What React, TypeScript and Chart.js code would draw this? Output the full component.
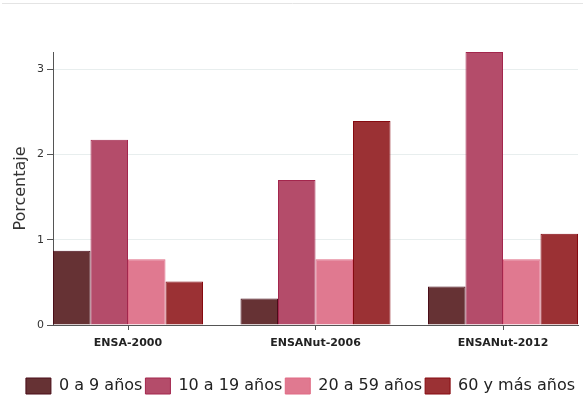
import { useEffect, useRef } from "react";
import { Chart, registerables } from "chart.js";

Chart.register(...registerables);

const categories = ["ENSA-2000", "ENSANut-2006", "ENSANut-2012"];
const seriesLabels = ["0 a 9 años", "10 a 19 años", "20 a 59 años", "60 y más años"];
const age0to9 = [0.87, 0.31, 0.45];
const age10to19 = [2.17, 1.7, 3.2];
const age20to59 = [0.77, 0.77, 0.77];
const age60plus = [0.51, 2.39, 1.07];
const yTicks = [0, 1, 2, 3];
const yTitle = "Porcentaje";

const fills = ["#663234", "#b44c6a", "#e07990", "#9b3134"];
const borders = ["#4a0d18", "#a3264d", "#e06a84", "#860a10"];

const FONT = "'DejaVu Sans', sans-serif";

const topLine = {
  id: "topLine",
  beforeDraw(chart: any) {
    const ctx = chart.ctx;
    ctx.save();
    ctx.strokeStyle = "#e4e4e4";
    ctx.lineWidth = 1;
    ctx.beginPath();
    ctx.moveTo(2, 3.5);
    ctx.lineTo(583, 3.5);
    ctx.stroke();
    ctx.restore();
  },
};

export default function App() {
  const ref = useRef<HTMLCanvasElement | null>(null);

  useEffect(() => {
    if (!ref.current) return;
    const series = [age0to9, age10to19, age20to59, age60plus];
    const chart = new Chart(ref.current, {
      type: "bar",
      data: {
        datasets: series.map((vals, k) => ({
          label: seriesLabels[k],
          data: vals.map((v, i) => ({ x: i, y: v })),
          backgroundColor: fills[k],
          borderColor: borders[k],
          borderWidth: 1,
          categoryPercentage: 0.8,
          barPercentage: 1,
        })),
      },
      options: {
        animation: false,
        responsive: true,
        maintainAspectRatio: false,
        font: { family: FONT },
        layout: { padding: { top: 52, right: 5, left: 0, bottom: 0 } },
        plugins: {
          tooltip: { enabled: false },
          legend: {
            position: "bottom",
            align: "end",
            labels: {
              boxWidth: 25,
              boxHeight: 16,
              padding: 3,
              color: "#222",
              font: { family: FONT, size: 16 },
            },
          },
        },
        scales: {
          x: {
            type: "linear",
            min: -0.4,
            max: 2.4,
            offset: false,
            afterBuildTicks: (s: any) => {
              s.ticks = categories.map((_, i) => ({ value: i }));
            },
            afterFit: (s: any) => {
              s.height = 50;
            },
            grid: {
              offset: false,
              drawOnChartArea: false,
              tickLength: 5,
              tickColor: "#555",
            },
            border: { color: "#555", width: 1 },
            ticks: {
              autoSkip: false,
              maxRotation: 0,
              padding: 7,
              color: "#222",
              font: { family: FONT, size: 11, weight: "bold" },
              callback: (v: any) => categories[v] ?? "",
            },
          },
          y: {
            min: 0,
            max: 3.2,
            afterBuildTicks: (s: any) => {
              s.ticks = yTicks.map((v) => ({ value: v }));
            },
            afterFit: (s: any) => {
              s.width = 53;
            },
            grid: {
              color: "#e8eeee",
              tickColor: "#555",
              tickLength: 6,
            },
            border: { color: "#555", width: 1 },
            ticks: {
              padding: 3,
              color: "#333",
              font: { family: FONT, size: 11 },
            },
            title: {
              display: true,
              text: yTitle,
              color: "#333",
              padding: { top: 11, bottom: 0 },
              font: { family: FONT, size: 16 },
            },
          },
        },
      },
      plugins: [topLine],
    });
    return () => chart.destroy();
  }, []);

  return (
    <div style={{ position: "absolute", left: 0, top: 0, width: 583, height: 400, overflow: "hidden" }}>
      <div style={{ position: "relative", width: 583, height: 404 }}>
        <canvas ref={ref} />
      </div>
    </div>
  );
}
